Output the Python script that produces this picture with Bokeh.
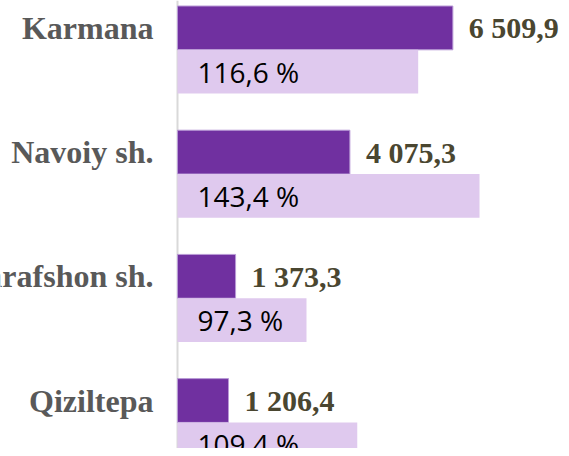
from bokeh.plotting import figure
from bokeh.models import Range1d, Span, ColumnDataSource
from bokeh.core.properties import value
from bokeh.embed import file_html
from bokeh.resources import INLINE

# ---- data ----
districts = ["Karmana", "Navoiy sh.", "Zarafshon sh.", "Qiziltepa"]
volume = [6509.9, 4075.3, 1373.3, 1206.4]          # dark bars
growth = [116.6, 143.4, 97.3, 109.4]               # growth rate, %
growth_bar = [5690, 7140, 3050, 4250]              # light bar lengths (same scale as dark bars)


def fmt_num(v):
    s = f"{v:,.1f}"
    return s.replace(",", " ").replace(".", ",")


def fmt_pct(v):
    return f"{v:.1f}".replace(".", ",") + " %"


idx = list(range(len(districts)))
half = 0.3527
dark_y = [i - half / 2 for i in idx]
light_y = [i + half / 2 for i in idx]

dark_src = ColumnDataSource(dict(y=dark_y, v=volume, lab=[fmt_num(v) for v in volume], cat=districts,
                                 zero=[0] * len(idx)))
light_src = ColumnDataSource(dict(y=light_y, v=growth_bar, lab=[fmt_pct(g) for g in growth],
                                  zero=[0] * len(idx)))

p = figure(width=561, height=448, output_backend="svg", toolbar_location=None,
           x_range=Range1d(-4184, 9078), y_range=Range1d(3.210, -0.397),
           x_axis_location=None, y_axis_location=None, min_border=0)
p.grid.visible = False
p.outline_line_color = None
p.background_fill_color = "white"
p.border_fill_color = "white"

p.add_layout(Span(location=0, dimension="height", line_color="#D9D9D9", line_width=2, level="underlay"))

p.hbar(y="y", left="zero", right="v", height=half, source=dark_src,
       fill_color="#7030A0", line_color="#B99AD6", line_width=1)
p.hbar(y="y", left="zero", right="v", height=half, source=light_src,
       fill_color="#DFC9EE", line_color=None)

# category labels
p.text(x="zero", y="y", text="cat", source=dark_src, x_offset=-24,
       text_align="right", text_baseline="middle",
       text_font=value("Liberation Serif"), text_font_style="bold",
       text_font_size="32px", text_color="#595959")

# value labels
p.text(x="v", y="y", text="lab", source=dark_src, x_offset=16,
       text_align="left", text_baseline="middle",
       text_font=value("Liberation Serif"), text_font_style="bold",
       text_font_size="30px", text_color="#4A4630")

# growth labels
p.text(x="zero", y="y", text="lab", source=light_src, x_offset=20,
       text_align="left", text_baseline="middle",
       text_font=value("Open Sans"), text_font_size="28px", text_color="#000000")

open("out.html", "w").write(file_html(p, INLINE))
